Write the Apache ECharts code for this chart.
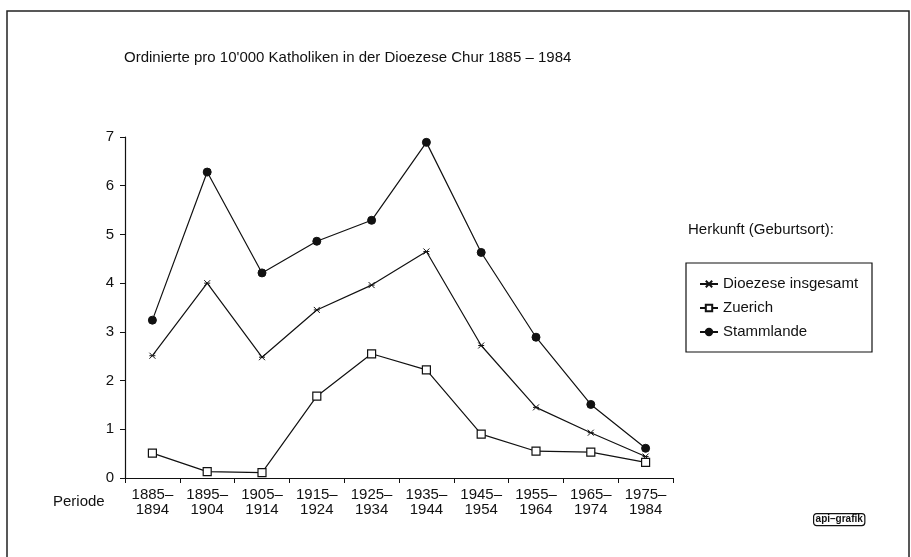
<html>
<head>
    <meta charset="UTF-8">
    <title>Ordinierte pro 10'000 Katholiken</title>
    <style>
        body { margin: 0; background: #fff; }
    </style>
    <script src="https://cdn.jsdelivr.net/npm/echarts@6/dist/echarts.min.js"></script>
</head>
<body>
<div id="main" style="width: 911px;height:557px;"></div>
<script>
    // Perioden (x-Achse)
    var perioden = ['1885\u2013\n1894', '1895\u2013\n1904', '1905\u2013\n1914', '1915\u2013\n1924', '1925\u2013\n1934',
        '1935\u2013\n1944', '1945\u2013\n1954', '1955\u2013\n1964', '1965\u2013\n1974', '1975\u2013\n1984'];
    var dioezese = [2.51, 4.0, 2.48, 3.45, 3.96, 4.65, 2.72, 1.45, 0.93, 0.44];
    var zuerich = [0.51, 0.13, 0.11, 1.68, 2.55, 2.22, 0.90, 0.55, 0.53, 0.32];
    var stammlande = [3.24, 6.28, 4.21, 4.86, 5.29, 6.89, 4.63, 2.89, 1.51, 0.61];

    var fontName = 'Liberation Sans, Arial, sans-serif';
    var kreuz = 'path://M0,0L10,10M10,0L0,10M0,5L10,5';

    var myChart = echarts.init(document.getElementById('main'));

    var option = {
        backgroundColor: '#fff',
        animation: false,
        textStyle: { fontFamily: fontName, color: '#111' },
        title: {
            text: "Ordinierte pro 10'000 Katholiken in der Dioezese Chur 1885 \u2013 1984",
            left: 119,
            top: 45,
            textStyle: { fontSize: 15, fontWeight: 'normal', color: '#111', fontFamily: fontName }
        },
        legend: {
            orient: 'vertical',
            left: 694,
            top: 270,
            itemGap: 6,
            itemWidth: 18,
            itemHeight: 8,
            textStyle: { fontSize: 15, color: '#111', lineHeight: 18 },
            data: ['Dioezese insgesamt', 'Zuerich', 'Stammlande']
        },
        grid: { left: 125, right: 238, top: 137, bottom: 79 },
        xAxis: {
            type: 'category',
            data: perioden,
            boundaryGap: true,
            axisLine: { lineStyle: { color: '#111', width: 1.2 } },
            axisTick: { show: true, length: 5, lineStyle: { color: '#111' } },
            axisLabel: { color: '#111', fontSize: 15, lineHeight: 15, margin: 9 }
        },
        yAxis: {
            type: 'value',
            min: 0,
            max: 7,
            interval: 1,
            splitLine: { show: false },
            axisLine: { show: true, lineStyle: { color: '#111', width: 1.2 } },
            axisTick: { show: true, length: 5, lineStyle: { color: '#111' } },
            axisLabel: { color: '#111', fontSize: 15, margin: 11 }
        },
        series: [
            {
                name: 'Dioezese insgesamt',
                type: 'line',
                data: dioezese,
                symbol: kreuz,
                symbolSize: 6,
                lineStyle: { color: '#111', width: 1.2 },
                itemStyle: { color: '#111', borderColor: '#111', borderWidth: 1 }
            },
            {
                name: 'Zuerich',
                type: 'line',
                data: zuerich,
                symbol: 'rect',
                symbolSize: 8,
                lineStyle: { color: '#111', width: 1.2 },
                itemStyle: { color: '#fff', borderColor: '#111', borderWidth: 1.2 }
            },
            {
                name: 'Stammlande',
                type: 'line',
                data: stammlande,
                symbol: 'circle',
                symbolSize: 8,
                lineStyle: { color: '#111', width: 1.2 },
                itemStyle: { color: '#111', borderColor: '#111', borderWidth: 1 }
            }
        ],
        graphic: [
            // Rahmen
            { type: 'rect', shape: { x: 7, y: 11, width: 902, height: 560 },
              style: { fill: 'none', stroke: '#222', lineWidth: 1.5 }, silent: true },
            // Legendenkasten
            { type: 'rect', shape: { x: 686, y: 263, width: 186, height: 89 },
              style: { fill: 'none', stroke: '#111', lineWidth: 1.2 }, silent: true },
            { type: 'text', left: 688, top: 222,
              style: { text: 'Herkunft (Geburtsort):', fontSize: 15, fill: '#111', fontFamily: fontName } },
            { type: 'text', left: 53, top: 494,
              style: { text: 'Periode', fontSize: 15, fill: '#111', fontFamily: fontName } },
            { type: 'text', left: 813, top: 513,
              style: { text: 'api\u2013grafik', fontSize: 10, fontWeight: 'bold', fill: '#111', fontFamily: fontName,
                       borderColor: '#111', borderWidth: 1.2, borderRadius: 3, padding: [1, 2] } }
        ]
    };

    myChart.setOption(option);
</script>
</body>
</html>
